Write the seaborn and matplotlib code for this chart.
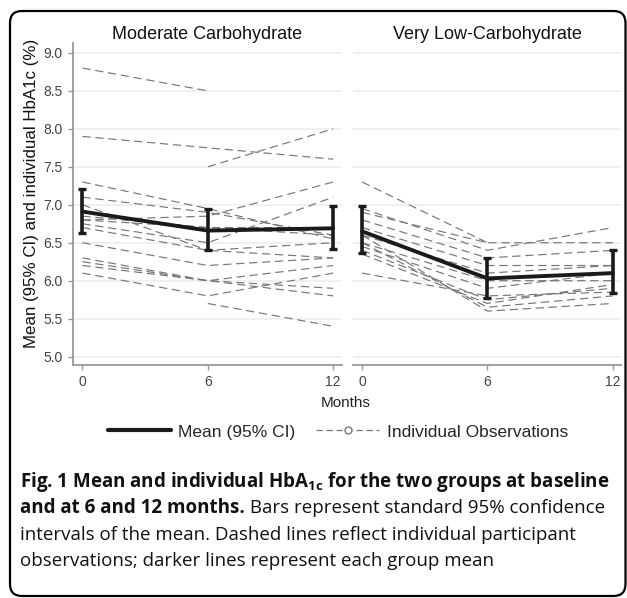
import matplotlib
matplotlib.use('Agg')
import matplotlib.pyplot as plt
from matplotlib.lines import Line2D
from matplotlib.patches import FancyBboxPatch
import numpy as np
import pandas as pd
import seaborn as sns

sns.set_style('white')
plt.rcParams['font.family'] = ['Liberation Sans', 'DejaVu Sans']
plt.rcParams['mathtext.fontset'] = 'custom'
plt.rcParams['mathtext.rm'] = 'Open Sans'
plt.rcParams['mathtext.bf'] = 'Open Sans:bold'

W, H = 627, 598

# --- data ---
months = [0, 6, 12]
groups = ['Moderate Carbohydrate', 'Very Low-Carbohydrate']

# individual participants (nan = not observed)
mod_m0 = [8.8, 7.9, np.nan, 7.3, 7.1, 6.8, 6.75, 6.85, 6.8, 7.0, 6.7, 6.5, 6.3, 6.2, 6.1, np.nan, 6.25]
mod_m6 = [8.5, 7.75, 7.5, 6.95, 6.9, 6.85, 6.5, 6.7, 6.7, 6.4, 6.4, 6.2, 6.0, 6.0, 5.8, 5.7, 6.0]
mod_m12 = [np.nan, 7.6, 8.0, 6.55, 6.6, 7.3, 7.1, 6.7, 6.6, 6.5, 6.3, 6.3, 5.9, 5.8, 6.1, 5.4, 6.2]

vlc_m0 = [7.3, 6.95, 6.9, 6.8, 6.7, 6.6, 6.5, 6.45, 6.4, 6.5, 6.6, 6.1, 6.35]
vlc_m6 = [6.5, 6.4, 6.5, 6.3, 6.2, 6.1, 6.0, 5.9, 5.75, 5.65, 5.6, 5.8, 5.7]
vlc_m12 = [np.nan, 6.7, 6.5, 6.4, 6.2, 6.2, 6.0, 6.1, 5.9, 5.8, 5.7, 5.85, 5.95]

# group means and 95% CI
mod_mean = [6.91, 6.66, 6.69]
mod_lo = [6.63, 6.40, 6.42]
mod_hi = [7.21, 6.94, 6.99]
vlc_mean = [6.65, 6.03, 6.10]
vlc_lo = [6.36, 5.77, 5.84]
vlc_hi = [6.98, 6.30, 6.41]

yticks = [5.0, 5.5, 6.0, 6.5, 7.0, 7.5, 8.0, 8.5, 9.0]


def long_df(m0, m6, m12):
    rows = []
    for i, vals in enumerate(zip(m0, m6, m12)):
        for mo, v in zip(months, vals):
            rows.append({'id': i, 'month': mo, 'hba1c': v})
    return pd.DataFrame(rows).dropna()


panels = [
    (long_df(mod_m0, mod_m6, mod_m12), mod_mean, mod_lo, mod_hi),
    (long_df(vlc_m0, vlc_m6, vlc_m12), vlc_mean, vlc_lo, vlc_hi),
]

fig = plt.figure(figsize=(W / 100, H / 100), dpi=100)

ax_left = [73, 352.7]
ax_w = 268.5
top_px, bot_px = 43, 365

axes = []
for k, (df, mean, lo, hi) in enumerate(panels):
    ax = fig.add_axes([ax_left[k] / W, (H - bot_px) / H, ax_w / W, (bot_px - top_px) / H])
    axes.append(ax)
    for y in yticks:
        ax.axhline(y, color='#eeeeee', lw=1.2, zorder=0)
    sns.lineplot(data=df, x='month', y='hba1c', units='id', estimator=None,
                 color='#777777', lw=0.85, linestyle=(0, (7, 4)), ax=ax,
                 legend=False, zorder=2)
    sns.lineplot(x=months, y=mean, color='#1a1a1a', lw=2.8, ax=ax, zorder=3)
    m = np.array(mean)
    ax.errorbar(months, m, yerr=[m - np.array(lo), np.array(hi) - m], fmt='none',
                ecolor='#1a1a1a', elinewidth=2.6, capsize=2.8, capthick=2.4, zorder=3)

    ax.set_xlim(-0.45, 12.4)
    ax.set_ylim(4.89, 9.13)
    ax.set_xticks(months)
    ax.set_xticklabels([str(mo) for mo in months])
    ax.set_yticks(yticks)
    ax.set_yticklabels([f'{y:.1f}' for y in yticks])
    ax.set_xlabel('')
    ax.set_ylabel('')
    for s in ['top', 'right']:
        ax.spines[s].set_visible(False)
    ax.spines['bottom'].set_color('#999999')
    ax.spines['bottom'].set_linewidth(1.3)
    ax.spines['left'].set_color('#999999')
    ax.spines['left'].set_linewidth(1.3)
    ax.tick_params(axis='both', colors='#999999', labelcolor='#444444',
                   labelsize=10, length=3.5, width=1, direction='out',
                   bottom=True, left=True, pad=4)
    ax.set_title(groups[k], fontsize=13, pad=3, color='#111111')
    ax.patch.set_alpha(0)

axes[1].spines['left'].set_visible(False)
axes[1].tick_params(axis='y', left=False, labelleft=False)

fig.text(32 / W, 1 - 193 / H, 'Mean (95% CI) and individual HbA1c (%)', rotation=90,
         ha='center', va='center', fontsize=12.2, color='#111111')
fig.text(346 / W, 1 - 403 / H, 'Months', ha='center', va='center', fontsize=11, color='#222222')

# legend
handles = [Line2D([], [], color='#1a1a1a', lw=3),
           Line2D([], [], color='#777777', lw=0.9, linestyle=(0, (5, 3)),
                  marker='o', markersize=5, markerfacecolor='white',
                  markeredgecolor='#777777', markevery=[1])]
fig.legend(handles, ['Mean (95% CI)', 'Individual Observations'], ncol=2,
           loc='center', bbox_to_anchor=(338 / W, 1 - 432 / H), frameon=False,
           fontsize=12.5, handlelength=3.6, columnspacing=1.2, handletextpad=0.45)

# caption
cax = fig.add_axes([0, 0, 1, 1])
cax.axis('off')
cax.set_xlim(0, W)
cax.set_ylim(H, 0)
cap = dict(fontfamily=['Open Sans', 'DejaVu Sans'], fontsize=13.5, color='#111111', va='center')
cax.text(20, 482, r'Fig. 1 Mean and individual HbA$_{\mathbf{1c}}$ for the two groups at baseline',
         fontweight='bold', **cap)
t = cax.text(20, 508, 'and at 6 and 12 months.', fontweight='bold', **cap)
cax.annotate(' Bars represent standard 95% confidence', xy=(1, 0.5), xycoords=t,
             ha='left', **cap)
cax.text(20, 535, 'intervals of the mean. Dashed lines reflect individual participant', **cap)
cax.text(20, 561, 'observations; darker lines represent each group mean', **cap)

box = FancyBboxPatch((10, 2), 615.5, 585, boxstyle='round,pad=0,rounding_size=12',
                     transform=None, facecolor='none', edgecolor='black', lw=1.6)
fig.patches.append(box)

fig.savefig('out.png', dpi=100)
plt.close()
